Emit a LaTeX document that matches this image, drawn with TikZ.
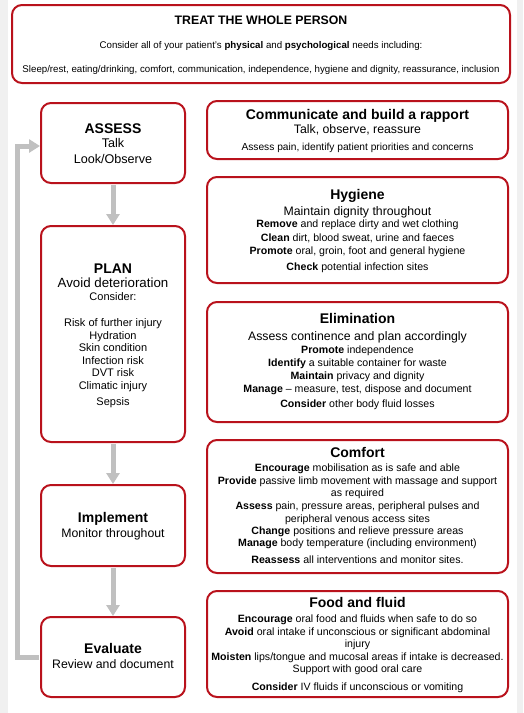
\documentclass[tikz,border=0pt]{standalone}
\usepackage{fontspec}
\setmainfont{Liberation Sans}
\usetikzlibrary{arrows.meta}
\definecolor{boxred}{RGB}{185,18,28}
\definecolor{arrgrey}{RGB}{192,192,192}
\definecolor{bggrey}{RGB}{240,240,240}
\newcommand\fsz[1]{\fontsize{#1}{#1}\selectfont}
\begin{document}
\begin{tikzpicture}[x=1pt,y=-1pt,
  box/.style={draw=boxred, line width=2pt, rounded corners=10pt, fill=white, inner sep=0pt},
  ttl/.style={anchor=base, inner sep=0pt, font=\fsz{14}\bfseries},
  sub/.style={anchor=base, inner sep=0pt, font=\fsz{12.3}},
  bod/.style={anchor=base, inner sep=0pt, font=\fsz{10.6}},
  lst/.style={anchor=base, inner sep=0pt, font=\fsz{11}},
  sml/.style={anchor=base, inner sep=0pt, font=\fsz{9.7}},
  arr/.style={draw=arrgrey, line width=5pt, -{Triangle[width=13pt,length=11pt]}}
]
\useasboundingbox (0,0) rectangle (523,713);
\fill[bggrey] (0,0) rectangle (523,713);
\fill[white] (8,0) rectangle (517,713);

% boxes
\node[box, minimum width=498pt, minimum height=78pt] (top) at (261,44) {};
\node[box, minimum width=301pt, minimum height=58pt] (com) at (357.5,130) {};
\node[box, minimum width=301pt, minimum height=106pt] (hyg) at (357.5,230) {};
\node[box, minimum width=301pt, minimum height=120pt] (eli) at (357.5,362) {};
\node[box, minimum width=301pt, minimum height=133pt] (cmf) at (357.5,506.5) {};
\node[box, minimum width=301pt, minimum height=106pt] (food) at (357.5,644) {};
\node[box, minimum width=144pt, minimum height=80pt] (as) at (113,143) {};
\node[box, minimum width=144pt, minimum height=216pt] (pl) at (113,334) {};
\node[box, minimum width=144pt, minimum height=81pt] (im) at (113,525.5) {};
\node[box, minimum width=144pt, minimum height=80pt] (ev) at (113,657) {};

% connectors
\draw[arr, shorten <=1pt] (as.south) -- (pl.north);
\draw[arr, shorten <=1pt] (pl.south) -- (im.north);
\draw[arr, shorten <=1pt] (im.south) -- (ev.north);
\coordinate (lp1) at (17,657);
\coordinate (lp2) at (17,146);
\draw[arr, shorten <=1pt] (ev.west) -- (lp1) -- (lp2) -- (as.west |- lp2);

% top box text
\node[anchor=base, inner sep=0pt, font=\fsz{12.3}\bfseries] (t1) at (261,24) {TREAT THE WHOLE PERSON};
\node[sml] (t2) at (261,48) {Consider all of your patient's \textbf{physical} and \textbf{psychological} needs including:};
\node[sml] (t3) at (261,72.5) {Sleep/rest, eating/drinking, comfort, communication, independence, hygiene and dignity, reassurance, inclusion};

% ASSESS
\node[ttl] (as1) at (113,133) {ASSESS};
\node[sub, font=\fsz{12.6}] (as2) at (113,147) {Talk};
\node[sub, font=\fsz{12.6}] (as3) at (113,163) {Look/Observe};

% PLAN
\node[ttl] (pl1) at (113,273) {PLAN};
\node[sub, font=\fsz{13.3}] (pl2) at (113,287.5) {Avoid deterioration};
\node[lst] (pl3) at (113,300.6) {Consider:};
\node[lst] (pl4) at (113,326.5) {Risk of further injury};
\node[lst] (pl5) at (113,339) {Hydration};
\node[lst] (pl6) at (113,351.5) {Skin condition};
\node[lst] (pl7) at (113,364) {Infection risk};
\node[lst] (pl8) at (113,376.5) {DVT risk};
\node[lst] (pl9) at (113,389) {Climatic injury};
\node[lst] (pl10) at (113,405.2) {Sepsis};

% Implement
\node[ttl] (im1) at (113,522.6) {Implement};
\node[sub] (im2) at (113,537.6) {Monitor throughout};

% Evaluate
\node[ttl] (ev1) at (113,653.6) {Evaluate};
\node[sub] (ev2) at (113,668.6) {Review and document};

% Communicate
\node[ttl] (c1) at (357.5,119.6) {Communicate and build a rapport};
\node[sub] (c2) at (357.5,133.7) {Talk, observe, reassure};
\node[bod, font=\fsz{10.2}] (c3) at (357.5,150) {Assess pain, identify patient priorities and concerns};

% Hygiene
\node[ttl] (h1) at (357.5,199.6) {Hygiene};
\node[sub] (h2) at (357.5,215.7) {Maintain dignity throughout};
\node[bod] (h3) at (357.5,227.8) {\textbf{Remove} and replace dirty and wet clothing};
\node[bod] (h4) at (357.5,241) {\textbf{Clean} dirt, blood sweat, urine and faeces};
\node[bod] (h5) at (357.5,254.2) {\textbf{Promote} oral, groin, foot and general hygiene};
\node[bod] (h6) at (357.5,270.3) {\textbf{Check} potential infection sites};

% Elimination
\node[ttl] (e1) at (357.5,323.6) {Elimination};
\node[sub] (e2) at (357.5,340.6) {Assess continence and plan accordingly};
\node[bod] (e3) at (357.5,353.5) {\textbf{Promote} independence};
\node[bod] (e4) at (357.5,366.4) {\textbf{Identify} a suitable container for waste};
\node[bod] (e5) at (357.5,379.3) {\textbf{Maintain} privacy and dignity};
\node[bod] (e6) at (357.5,392.2) {\textbf{Manage} -- measure, test, dispose and document};
\node[bod] (e7) at (357.5,407.4) {\textbf{Consider} other body fluid losses};

% Comfort
\node[ttl] (k1) at (357.5,457.6) {Comfort};
\node[bod] (k2) at (357.5,471.4) {\textbf{Encourage} mobilisation as is safe and able};
\node[bod] (k3) at (357.5,484.2) {\textbf{Provide} passive limb movement with massage and support};
\node[bod] (k4) at (357.5,496.4) {as required};
\node[bod] (k5) at (357.5,509.4) {\textbf{Assess} pain, pressure areas, peripheral pulses and};
\node[bod] (k6) at (357.5,522.2) {peripheral venous access sites};
\node[bod] (k7) at (357.5,534.4) {\textbf{Change} positions and relieve pressure areas};
\node[bod] (k8) at (357.5,546.6) {\textbf{Manage} body temperature (including environment)};
\node[bod] (k9) at (357.5,563.4) {\textbf{Reassess} all interventions and monitor sites.};

% Food and fluid
\node[ttl] (f1) at (357.5,607.6) {Food and fluid};
\node[bod] (f2) at (357.5,622.4) {\textbf{Encourage} oral food and fluids when safe to do so};
\node[bod] (f3) at (357.5,635.2) {\textbf{Avoid} oral intake if unconscious or significant abdominal};
\node[bod] (f4) at (357.5,647.3) {injury};
\node[bod] (f5) at (357.5,660) {\textbf{Moisten} lips/tongue and mucosal areas if intake is decreased.};
\node[bod] (f6) at (357.5,672.6) {Support with good oral care};
\node[bod] (f7) at (357.5,690.2) {\textbf{Consider} IV fluids if unconscious or vomiting};
\end{tikzpicture}
\end{document}
